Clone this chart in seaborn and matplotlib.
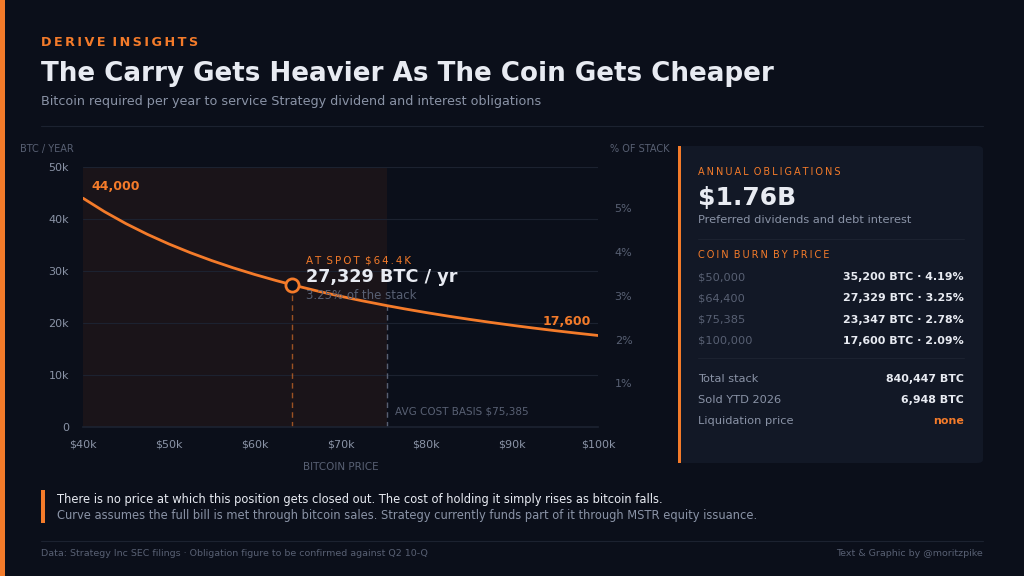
import numpy as np
import pandas as pd
import matplotlib.pyplot as plt
import seaborn as sns
from matplotlib.patches import FancyBboxPatch, Rectangle
from matplotlib.lines import Line2D

# Data
prices = [40000, 42500, 45000, 47500, 50000, 52500, 55000, 57500, 60000, 62500,
          64400, 67500, 70000, 72500, 75385, 77500, 80000, 82500, 85000, 87500,
          90000, 92500, 95000, 97500, 100000]
btc_per_year = [44000, 41412, 39111, 37053, 35200, 33524, 32000, 30609, 29333, 28160,
                27329, 26074, 25143, 24276, 23347, 22710, 22000, 21333, 20706, 20114,
                19556, 19027, 18526, 18051, 17600]
spot_price = 64400
spot_btc = 27329
cost_basis = 75385
total_stack = 840447

x_ticks = [40000, 50000, 60000, 70000, 80000, 90000, 100000]
x_labels = ["$40k", "$50k", "$60k", "$70k", "$80k", "$90k", "$100k"]
y_ticks = [0, 10000, 20000, 30000, 40000, 50000]
y_labels = ["0", "10k", "20k", "30k", "40k", "50k"]
pct_ticks = [1, 2, 3, 4, 5]

burn_prices = ["$50,000", "$64,400", "$75,385", "$100,000"]
burn_values = ["35,200 BTC · 4.19%", "27,329 BTC · 3.25%", "23,347 BTC · 2.78%", "17,600 BTC · 2.09%"]
stat_names = ["Total stack", "Sold YTD 2026", "Liquidation price"]
stat_values = ["840,447 BTC", "6,948 BTC", "none"]

# Palette
BG = "#0b0f1a"
ORANGE = "#f47b2a"
WHITE = "#e8ebf2"
GRAY = "#8a93a6"
DIM = "#586073"
GRID = "#1c2230"
PANEL = "#121826"
SHADE = "#1a1419"

sns.set_theme(style="dark")
plt.rcParams.update({
    "figure.facecolor": BG,
    "axes.facecolor": BG,
    "savefig.facecolor": BG,
    "text.color": WHITE,
})
plt.rcParams["font.family"] = ["DejaVu Sans"]

W, H = 1024, 576


def fx(px):
    return px / W


def fy(py):
    return 1 - py / H


def spaced(s, gap="\u2009"):
    # poor man's letter spacing
    return (" " + gap).join(gap.join(w) for w in s.split(" "))


fig = plt.figure(figsize=(10.24, 5.76), dpi=100)

# left accent stripe
fig.add_artist(Rectangle((0, 0), fx(5), 1, transform=fig.transFigure, color=ORANGE, lw=0))

# Header
fig.text(fx(41), fy(42), spaced("DERIVE INSIGHTS"), color=ORANGE, fontsize=9.2,
         fontweight="bold", va="center")
fig.text(fx(41), fy(74), "The Carry Gets Heavier As The Coin Gets Cheaper", color=WHITE,
         fontsize=18.8, fontweight="bold", va="center")
fig.text(fx(41), fy(101), "Bitcoin required per year to service Strategy dividend and interest obligations",
         color=GRAY, fontsize=9.2, va="center")
fig.add_artist(Line2D([fx(41), fx(983)], [fy(126), fy(126)], transform=fig.transFigure, color=GRID, lw=0.8))

# Main chart
ax = fig.add_axes([fx(83), fy(427), fx(598) - fx(83), fy(167) - fy(427)])
df = pd.DataFrame({"price": prices, "btc": btc_per_year})

ax.axvspan(40000, cost_basis, ymin=0, ymax=1, color=SHADE, lw=0, zorder=0)
sns.lineplot(data=df, x="price", y="btc", ax=ax, color=ORANGE, lw=2, zorder=3)

ax.set_xlim(40000, 100000)
ax.set_ylim(0, 50000)
ax.set_xticks(x_ticks)
ax.set_xticklabels(x_labels)
ax.set_yticks(y_ticks)
ax.set_yticklabels(y_labels)
ax.tick_params(axis="x", colors=DIM, labelcolor=GRAY, labelsize=8, length=3, width=0.8, pad=6)
ax.tick_params(axis="y", length=0, labelcolor=GRAY, labelsize=8, pad=10)
ax.grid(axis="y", color=GRID, lw=0.8)
ax.grid(axis="x", visible=False)
for s in ["top", "right", "left"]:
    ax.spines[s].set_visible(False)
ax.spines["bottom"].set_color(GRID)
ax.set_xlabel("BITCOIN PRICE", color=DIM, fontsize=7.5, labelpad=9)
ax.set_ylabel("")

# spot & cost basis markers
ax.plot([spot_price, spot_price], [0, spot_btc], color=ORANGE, lw=1, ls=(0, (4, 3)), alpha=0.6, zorder=2)
cb_btc = btc_per_year[prices.index(cost_basis)]
ax.plot([cost_basis, cost_basis], [0, cb_btc], color=DIM, lw=1, ls=(0, (4, 3)), zorder=2)
ax.scatter([spot_price], [spot_btc], s=90, facecolor=BG, edgecolor=ORANGE, lw=2, zorder=5)

ax.text(41000, 46300, "44,000", color=ORANGE, fontsize=9, fontweight="bold", va="center")
ax.text(99200, 20200, "17,600", color=ORANGE, fontsize=9, fontweight="bold", va="center", ha="right")
ax.text(66000, 32100, spaced("AT SPOT $64.4K"), color=ORANGE, fontsize=7.4, va="center")
ax.text(66000, 28800, "27,329 BTC / yr", color=WHITE, fontsize=12.7, fontweight="bold", va="center")
ax.text(66000, 25200, "3.25% of the stack", color=DIM, fontsize=8.5, va="center")
ax.text(76300, 2900, "AVG COST BASIS $75,385", color=DIM, fontsize=7.5, va="center")

# Right % axis
ax2 = ax.twinx()
ax2.set_ylim(0, 50000 / total_stack * 100)
ax2.set_yticks(pct_ticks)
ax2.set_yticklabels([f"{p}%" for p in pct_ticks])
ax2.tick_params(axis="y", length=0, labelcolor=DIM, labelsize=8, pad=12)
ax2.grid(False)
for s in ax2.spines.values():
    s.set_visible(False)

fig.text(fx(20), fy(149), "BTC / YEAR", color=DIM, fontsize=7, va="center")
fig.text(fx(610), fy(149), "% OF STACK", color=DIM, fontsize=7, va="center")

# Right panel
panel = FancyBboxPatch((fx(679), fy(463)), fx(983) - fx(679), fy(146) - fy(463),
                       boxstyle="round,pad=0,rounding_size=0.006", transform=fig.transFigure,
                       facecolor=PANEL, edgecolor="none")
fig.add_artist(panel)
fig.add_artist(Rectangle((fx(678), fy(463)), fx(3), fy(146) - fy(463), transform=fig.transFigure,
                         color=ORANGE, lw=0))

px_l, px_r = 698, 964
fig.text(fx(px_l), fy(172), spaced("ANNUAL OBLIGATIONS"), color=ORANGE, fontsize=7, va="center")
fig.text(fx(px_l), fy(198), "$1.76B", color=WHITE, fontsize=18, fontweight="bold", va="center")
fig.text(fx(px_l), fy(220), "Preferred dividends and debt interest", color=GRAY, fontsize=8.2, va="center")
fig.add_artist(Line2D([fx(px_l), fx(px_r)], [fy(239), fy(239)], transform=fig.transFigure, color=GRID, lw=0.8))
fig.text(fx(px_l), fy(255), spaced("COIN BURN BY PRICE"), color=ORANGE, fontsize=7, va="center")
for i, (p, v) in enumerate(zip(burn_prices, burn_values)):
    yy = 277 + i * 21.3
    fig.text(fx(px_l), fy(yy), p, color=DIM, fontsize=8.2, va="center")
    fig.text(fx(px_r), fy(yy), v, color=WHITE, fontsize=7.9, fontweight="bold", va="center", ha="right")
fig.add_artist(Line2D([fx(px_l), fx(px_r)], [fy(358), fy(358)], transform=fig.transFigure, color=GRID, lw=0.8))
for i, (n, v) in enumerate(zip(stat_names, stat_values)):
    yy = 379 + i * 21
    fig.text(fx(px_l), fy(yy), n, color=GRAY, fontsize=8.2, va="center")
    fig.text(fx(px_r), fy(yy), v, color=ORANGE if v == "none" else WHITE, fontsize=7.9,
             fontweight="bold", va="center", ha="right")

# Bottom note
fig.add_artist(Rectangle((fx(41), fy(523)), fx(4), fy(490) - fy(523), transform=fig.transFigure,
                         color=ORANGE, lw=0))
fig.text(fx(57), fy(499), "There is no price at which this position gets closed out. The cost of holding it simply rises as bitcoin falls.",
         color=WHITE, fontsize=8.3, va="center")
fig.text(fx(57), fy(516), "Curve assumes the full bill is met through bitcoin sales. Strategy currently funds part of it through MSTR equity issuance.",
         color=GRAY, fontsize=8.3, va="center")
fig.add_artist(Line2D([fx(41), fx(983)], [fy(541), fy(541)], transform=fig.transFigure, color=GRID, lw=0.8))
fig.text(fx(41), fy(554), "Data: Strategy Inc SEC filings · Obligation figure to be confirmed against Q2 10-Q",
         color=DIM, fontsize=6.8, va="center")
fig.text(fx(983), fy(554), "Text & Graphic by @moritzpike", color=DIM, fontsize=6.8, va="center", ha="right")

fig.savefig("out.png", dpi=100)
